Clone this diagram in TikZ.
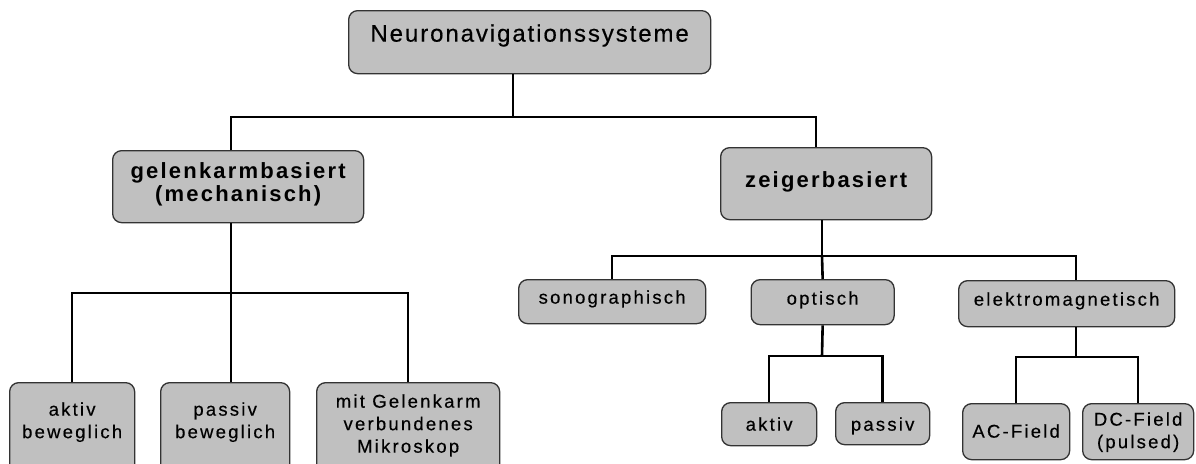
\documentclass[tikz,border=0pt]{standalone}
\usepackage{fontspec}
\setmainfont{Liberation Sans}
\newfontfamily\lsfont[LetterSpace=12,FakeBold=0.35]{Liberation Sans}
\newfontfamily\lsbold[LetterSpace=10]{Liberation Sans Bold}
\newfontfamily\lstop[LetterSpace=8,FakeBold=0.35]{Liberation Sans}
\definecolor{boxgray}{RGB}{192,192,192}
\newcommand\ml[1]{\begin{tabular}[t]{@{}c@{}}#1\end{tabular}}
\tikzset{
  box/.style={draw=black!80, line width=1.3pt, fill=boxgray, rounded corners=9pt,
    inner sep=0pt, anchor=north west},
  smalltxt/.style={font=\lsfont\fontsize{18.5pt}{22.5pt}\selectfont},
  midtxt/.style={font=\lsbold\fontsize{22pt}{22pt}\selectfont},
  toptxt/.style={font=\lstop\fontsize{24pt}{27pt}\selectfont},
  conn/.style={line width=2.6pt, black}
}
\begin{document}
\begin{tikzpicture}[x=1pt,y=-1pt]
\useasboundingbox (0,0) rectangle (1196,463);
\clip (0,0) rectangle (1196,463);
\fill[white] (0,0) rectangle (1196,463);
% level 0
\node[box, toptxt, minimum width=362pt, text height=31pt, text depth=32pt] (top) at (348,10) {Neuronavigationssysteme};
% level 1
\node[box, midtxt, minimum width=251pt, text height=28pt, text depth=44pt] (gel) at (112,150) {\ml{gelenkarmbasiert\\(mechanisch)}};
\node[box, midtxt, minimum width=211pt, text height=40pt, text depth=32pt] (zeig) at (720,147) {zeigerbasiert};
% left children
\node[box, smalltxt, minimum width=125pt, text height=33pt, text depth=65pt] (aktL) at (9,382) {\ml{aktiv\\beweglich}};
\node[box, smalltxt, minimum width=129pt, text height=33pt, text depth=65pt] (pasL) at (160,382) {\ml{passiv\\beweglich}};
\node[box, smalltxt, minimum width=183pt, text height=25pt, text depth=73pt] (mik) at (316,382) {\ml{mit Gelenkarm\\verbundenes\\Mikroskop}};
% right children
\node[box, smalltxt, minimum width=187pt, text height=24pt, text depth=20pt] (sono) at (518,279) {sonographisch};
\node[box, smalltxt, minimum width=143pt, text height=25pt, text depth=20pt] (opt) at (750.5,279) {optisch};
\node[box, smalltxt, minimum width=216pt, text height=25pt, text depth=21pt] (elek) at (958,280) {elektromagnetisch};
% grandchildren
\node[box, smalltxt, minimum width=95pt, text height=28pt, text depth=15pt] (aktR) at (721,402) {aktiv};
\node[box, smalltxt, minimum width=94pt, text height=28pt, text depth=14pt] (pasR) at (835,402) {passiv};
\node[box, smalltxt, minimum width=107pt, text height=34pt, text depth=22pt] (acf) at (962,403) {AC-Field};
\node[box, smalltxt, minimum width=111pt, text height=22pt, text depth=34pt] (dcf) at (1082,403) {\ml{DC-Field\\(pulsed)}};
% junctions
\coordinate (j0) at (513,117);
\coordinate (xg) at (231,0);
\coordinate (xz) at (816,0);
\coordinate (j1) at (231,293);
\coordinate (j2) at (822,256);
\coordinate (j3) at (822,356);
\coordinate (xe) at (1076,0);
\coordinate (j4) at (1076,357);
% connectors
\draw[conn] (top.south -| j0) -- (j0);
\draw[conn] (gel.north -| xg) |- (j0) -| (zeig.north -| xz);
\draw[conn] (gel.south -| j1) -- (j1);
\draw[conn] (aktL.north) |- (j1) -| (mik.north);
\draw[conn] (j1) -- (pasL.north -| j1);
\draw[conn] (zeig.south -| j2) -- (j2);
\draw[conn] (sono.north) |- (j2) -| (elek.north -| xe);
\draw[conn] (j2) -- (opt.north);
\draw[conn] (opt.south) -- (j3);
\draw[conn] (aktR.north) |- (j3) -| (pasR.north);
\draw[conn] (elek.south -| j4) -- (j4);
\draw[conn] (acf.north) |- (j4) -| (dcf.north);
\end{tikzpicture}
\end{document}
